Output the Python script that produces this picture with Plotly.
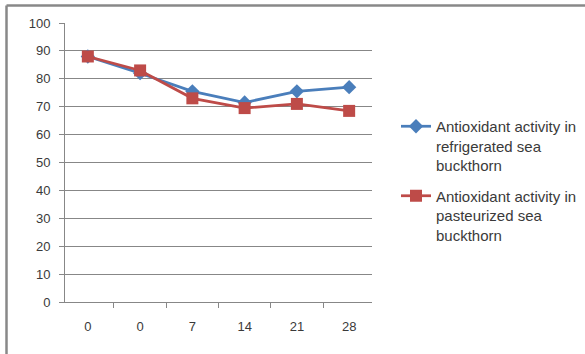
import plotly.graph_objects as go

# Storage days (two readings at day 0)
days = ["0", "0 ", "7", "14", "21", "28"]
day_labels = ["0", "0", "7", "14", "21", "28"]
refrigerated = [88, 82, 75.5, 71.5, 75.5, 77]
pasteurized = [88, 83, 73, 69.5, 71, 68.5]

series_names = [
    "Antioxidant activity in<br>refrigerated sea<br>buckthorn",
    "Antioxidant activity in<br>pasteurized sea<br>buckthorn",
]
blue = "#4A7EBB"
red = "#BE4B48"
grid = "#878787"
text_col = "#3a3a3a"
font_family = "Liberation Sans, Arial, sans-serif"

fig = go.Figure()
fig.add_trace(go.Scatter(
    x=days, y=refrigerated, name=series_names[0], mode="lines+markers",
    legendgroup="refrigerated",
    line=dict(color=blue, width=2.75),
    marker=dict(symbol="diamond", size=11, color=blue),
))
fig.add_trace(go.Scatter(
    x=days, y=pasteurized, name=series_names[1], mode="lines+markers",
    legendgroup="pasteurized",
    line=dict(color=red, width=2.75),
    marker=dict(symbol="square", size=12, color=red),
))

W, H = 585, 354
L, R, T, B = 65, 213, 23, 52
pw, ph = W - L - R, H - T - B

def px_x(x):
    return (x - L) / pw

def px_y(y):
    return (H - B - y) / ph

# Outer chart frame (top and left edges)
fig.add_shape(type="line", xref="paper", yref="paper",
              x0=px_x(6.5), x1=px_x(585), y0=px_y(5.5), y1=px_y(5.5),
              line=dict(color="#888888", width=2.5))
fig.add_shape(type="line", xref="paper", yref="paper",
              x0=px_x(6.5), x1=px_x(6.5), y0=px_y(5.5), y1=px_y(354),
              line=dict(color="#888888", width=2.5))

fig.update_layout(
    width=W, height=H,
    margin=dict(l=L, r=R, t=T, b=B, autoexpand=False),
    paper_bgcolor="white", plot_bgcolor="white",
    font=dict(family=font_family, size=13, color=text_col),
    legend=dict(
        x=px_x(396), y=px_y(110), xanchor="left", yanchor="top",
        font=dict(size=15, color=text_col), tracegroupgap=8,
        valign="top", bgcolor="rgba(0,0,0,0)",
    ),
    xaxis=dict(
        type="category", showgrid=False, showline=True, linecolor=grid,
        linewidth=1, ticks="outside", tickcolor=grid, ticklen=5,
        tickson="boundaries", tickvals=days, ticktext=day_labels,
        tickfont=dict(size=13, color=text_col), zeroline=False,
        ticklabelstandoff=12,
    ),
    yaxis=dict(
        range=[0, 100], dtick=10, showgrid=True, gridcolor=grid, gridwidth=1,
        showline=True, linecolor=grid, linewidth=1, ticks="outside",
        tickcolor=grid, ticklen=5, tickfont=dict(size=13, color=text_col),
        zeroline=False, ticklabelstandoff=6,
    ),
)

fig.write_html("out.html")
